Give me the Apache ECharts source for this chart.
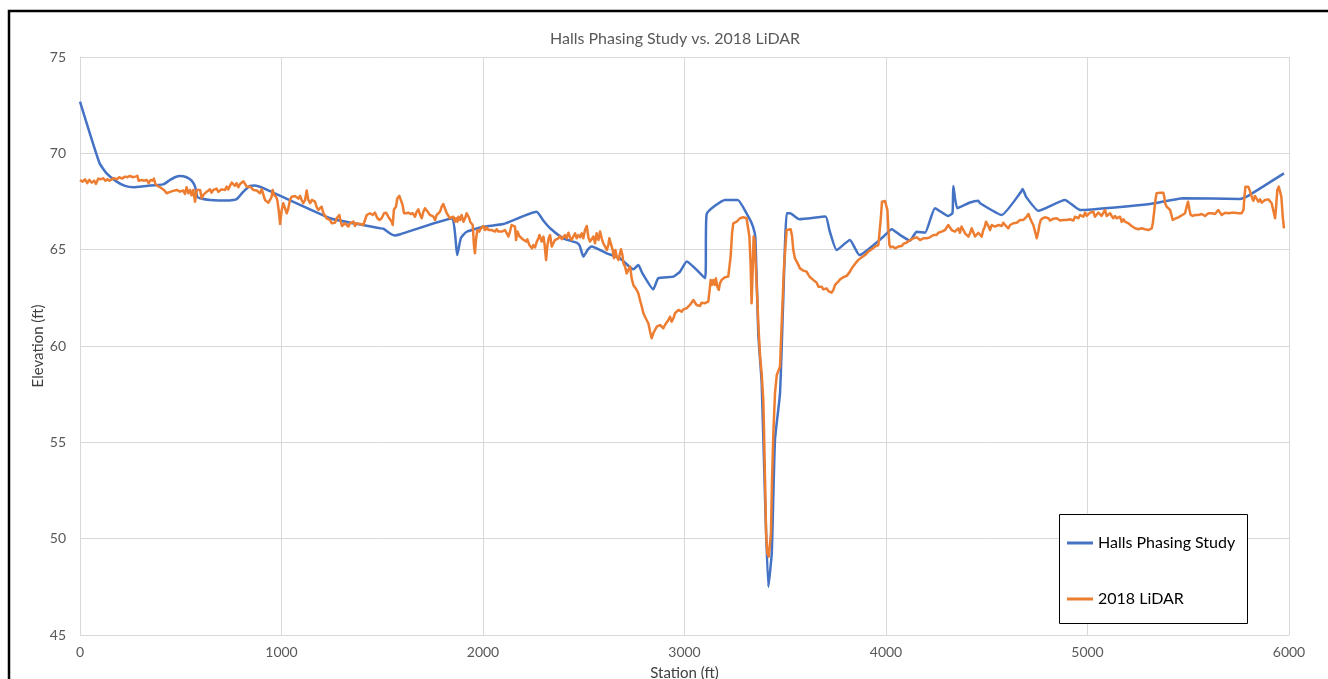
<!DOCTYPE html>
<html>
<head>
<meta charset="utf-8">
<script src="https://cdn.jsdelivr.net/npm/echarts@6/dist/echarts.min.js"></script>
<style>
  html, body { margin: 0; padding: 0; background: #fff; }
  #chart { width: 1328px; height: 679px; }
</style>
</head>
<body>
<div id="chart"></div>
<script>
// Profile along the channel: [station (ft), elevation (ft)]
const hallsStudy = [
  [0,72.68],[96,69.51],[132,68.96],[182,68.53],[223,68.31],[265,68.24],[331,68.31],[413,68.39],[447,68.62],[471,68.76],
  [496,68.83],[529,68.76],[554,68.58],[571,68.27],[582,67.75],[596,67.67],[645,67.58],[744,67.55],[777,67.62],[811,68.01],
  [844,68.31],[868,68.33],[910,68.19],[1241,66.63],[1357,66.37],[1489,66.11],[1505,66.09],[1545,65.80],[1563,65.74],[1590,65.80],
  [1844,66.62],[1872,64.72],[1890,65.60],[1919,65.93],[2002,66.19],[2101,66.33],[2266,66.97],[2300,66.50],[2333,66.11],[2399,65.59],
  [2465,65.36],[2480,65.20],[2498,64.64],[2520,65.00],[2539,65.16],[2614,64.81],[2680,64.55],[2746,63.98],[2771,64.20],[2790,63.80],
  [2845,62.94],[2870,63.52],[2945,63.60],[2978,63.86],[3011,64.38],[3102,63.52],[3110,66.85],[3201,67.58],[3264,67.58],[3317,66.71],
  [3340,66.20],[3352,65.60],[3366,60.66],[3383,58.08],[3400,52.00],[3416,47.51],[3433,49.24],[3449,55.12],[3474,57.55],[3490,62.39],
  [3507,66.89],[3524,66.89],[3570,66.58],[3700,66.72],[3719,66.02],[3755,64.98],[3821,65.50],[3868,64.72],[3987,65.67],[4028,66.06],
  [4070,65.76],[4119,65.47],[4152,65.93],[4194,65.88],[4243,67.15],[4309,66.75],[4330,66.90],[4334,68.30],[4354,67.15],[4417,67.45],
  [4458,67.54],[4467,67.41],[4574,66.80],[4670,68.00],[4678,68.15],[4695,67.75],[4756,67.02],[4888,67.58],[4963,67.06],[5310,67.37],
  [5476,67.67],[5757,67.63],[5790,67.75],[5975,68.96]
];

const lidar2018 = [
  [0,68.62],[13,68.53],[25,68.65],[36,68.45],[46,68.62],[58,68.48],[70,68.58],[79,68.41],[91,68.69],[103,68.65],
  [116,68.71],[126,68.58],[136,68.65],[146,68.58],[157,68.65],[169,68.71],[182,68.65],[195,68.76],[208,68.69],[223,68.79],
  [235,68.76],[248,68.83],[261,68.76],[275,68.79],[285,68.83],[291,68.58],[306,68.62],[318,68.58],[331,68.62],[341,68.45],
  [351,68.62],[361,68.58],[367,68.69],[374,68.41],[384,68.31],[397,68.24],[417,68.10],[430,67.93],[447,68.00],[463,68.05],
  [480,68.10],[496,68.01],[513,68.07],[521,67.89],[529,68.24],[538,67.93],[546,68.10],[554,67.82],[562,68.10],[571,67.49],
  [579,68.10],[587,68.01],[596,68.10],[604,67.67],[612,67.84],[620,67.75],[629,68.01],[637,67.93],[645,68.13],[653,67.96],
  [662,68.10],[670,68.03],[678,68.17],[687,68.00],[695,68.07],[703,68.13],[711,68.05],[720,68.10],[728,68.27],[736,68.13],
  [744,68.31],[753,68.48],[761,68.58],[769,68.31],[777,68.45],[786,68.24],[794,68.41],[802,68.48],[811,68.55],[819,68.41],
  [827,68.27],[835,68.36],[844,68.27],[852,68.22],[860,68.10],[868,68.01],[877,68.07],[885,68.10],[893,67.93],[902,68.13],
  [910,68.10],[918,67.58],[926,67.67],[935,67.44],[943,67.58],[951,67.75],[956,68.10],[963,67.84],[973,67.75],[979,67.58],
  [986,67.06],[993,66.33],[1001,67.06],[1009,67.41],[1017,67.49],[1026,66.89],[1034,67.15],[1042,67.58],[1051,67.75],[1059,67.72],
  [1067,67.79],[1075,67.75],[1084,67.65],[1092,67.79],[1100,67.58],[1108,67.41],[1117,67.58],[1125,68.07],[1133,67.58],[1142,67.41],
  [1150,67.58],[1158,67.58],[1166,67.49],[1175,67.20],[1183,67.06],[1191,67.06],[1199,67.23],[1208,66.89],[1216,66.80],[1224,66.63],
  [1232,66.72],[1241,66.54],[1249,66.37],[1257,66.46],[1266,66.40],[1274,66.63],[1282,66.54],[1287,66.80],[1294,66.46],[1300,66.23],
  [1307,66.20],[1315,66.37],[1323,66.28],[1332,66.20],[1340,66.37],[1348,66.28],[1357,66.46],[1365,66.23],[1373,66.37],[1381,66.28],
  [1390,66.33],[1398,66.28],[1406,66.28],[1414,66.37],[1423,66.80],[1431,66.89],
  [1439,66.89],[1453,66.80],[1464,66.92],[1476,66.63],[1486,66.54],[1497,66.63],[1509,66.89],[1519,66.92],[1530,66.71],[1539,66.80],
  [1547,66.45],[1552,66.28],[1558,67.09],[1568,67.23],[1575,67.67],[1585,67.79],[1593,67.75],[1601,67.32],[1608,66.89],[1618,66.89],
  [1630,66.92],[1641,66.85],[1651,66.89],[1663,66.71],[1671,66.97],[1679,67.09],[1688,66.80],[1696,66.63],[1704,66.97],[1712,67.15],
  [1721,67.03],[1729,67.09],[1737,66.80],[1745,66.89],[1754,66.71],[1762,66.54],[1770,66.80],[1778,66.71],[1787,66.97],[1795,67.23],
  [1803,67.37],[1812,67.32],[1820,66.89],[1828,66.80],[1836,66.63],[1845,66.54],[1853,66.71],[1861,66.45],[1866,66.63],[1873,66.45],
  [1878,66.71],[1886,66.54],[1894,66.80],[1903,66.45],[1911,66.63],[1919,66.89],[1927,66.92],[1932,66.63],[1936,66.45],[1944,66.51],
  [1949,66.28],[1955,65.24],[1960,64.81],[1965,65.50],[1972,66.02],[1982,65.94],[1990,66.11],[2002,66.23],[2010,66.02],[2018,66.16],
  [2027,66.02],[2035,66.11],[2043,66.02],[2051,66.11],[2060,65.94],[2068,66.06],[2076,65.94],[2084,66.02],[2093,65.94],[2101,65.88],
  [2109,66.02],[2118,65.85],[2126,65.68],[2134,65.94],[2142,66.28],[2151,66.37],[2159,66.19],[2164,65.50],[2171,65.94],[2180,65.71],
  [2187,65.64],[2197,65.54],[2204,65.50],[2214,65.42],[2220,65.54],[2230,65.24],[2237,65.16],[2243,65.07],[2250,65.24],[2258,65.12],
  [2267,65.42],[2275,65.59],[2280,65.76],[2286,65.59],[2291,65.42],[2300,65.68],[2306,65.24],[2313,64.46],[2319,65.16],[2326,65.59],
  [2333,65.76],[2341,65.16],[2349,65.33],[2357,65.50],[2366,65.42],[2374,65.59],[2382,65.71],[2391,65.54],[2399,65.64],[2407,65.76],
  [2415,65.59],[2424,65.88],[2432,65.64],[2440,65.50],[2448,65.68],[2457,65.85],[2465,65.59],[2473,65.76],[2482,65.64],[2490,65.85],
  [2498,65.59],[2506,66.02],[2515,66.23],[2523,65.64],[2531,65.42],[2539,65.54],[2548,65.68],[2556,65.33],[2564,65.85],[2573,65.50],
  [2581,65.94],[2589,65.59],[2597,65.33],[2606,65.16],[2614,64.98],[2622,65.24],[2627,65.59],[2634,65.33],[2644,64.98],[2650,64.55],
  [2657,64.98],[2664,64.64],[2672,64.46],[2680,64.81],[2685,65.02],[2692,64.72],[2697,64.29],[2705,64.12],[2713,63.77],[2721,63.95],
  [2730,64.12],[2738,63.51],[2746,63.17],[2754,63.08],[2763,62.91],[2771,62.73],[2779,62.39],[2788,62.04],[2796,61.70],[2804,61.52],
  [2812,61.35],[2821,61.17],[2829,60.75],[2837,60.40],[2845,60.66],[2854,60.75],[2862,61.00],[2870,60.92],[2879,61.09],[2887,61.00],
  [2895,60.92],[2903,61.09],[2912,61.17],[2920,61.35],[2928,61.52],[2936,61.26],[2945,61.44],[2953,61.70],[2961,61.78],[2970,61.87],
  [2978,61.87],[2986,61.78],[2994,61.90],[3002,61.84],[3011,61.96],[3019,62.04],[3027,62.13],[3036,62.22],[3044,62.39],[3052,62.30],
  [3060,62.13],[3069,62.22],[3077,62.08],[3085,62.25],[3093,62.30],[3102,62.22],[3110,62.13],[3118,62.30],[3123,62.74],[3130,63.43],
  [3136,63.17],[3143,63.43],[3150,63.17],[3156,63.51],[3163,63.08],[3170,62.91],[3176,63.25],[3184,63.43],[3193,63.34],[3201,63.57],
  [3209,63.51],[3217,63.60],[3222,63.69],[3229,64.64],[3236,65.85],[3242,66.37],[3251,66.37],[3259,66.45],[3267,66.54],[3275,66.63],
  [3284,66.71],[3292,66.68],[3300,66.71],[3308,66.63],[3317,66.54],[3322,65.68],[3328,64.29],[3333,62.22],[3338,63.77],[3343,65.68],
  [3348,65.50],[3350,64.98],[3358,63.25],[3367,61.00],[3375,59.45],[3383,58.58],[3391,57.20],[3395,55.47],[3400,52.87],[3405,50.28],
  [3411,49.24],[3418,49.07],[3424,49.16],[3429,50.28],[3434,52.87],[3441,55.47],[3449,57.54],[3458,58.50],[3466,58.58],[3474,58.93],
  [3479,60.31],[3487,62.39],[3494,64.12],[3502,65.33],[3507,66.02],[3515,66.06],[3527,66.06],[3534,65.68],
  [3540,64.98],[3548,64.55],[3557,64.38],[3565,64.21],[3573,64.03],[3581,63.95],[3590,63.91],[3598,63.81],[3606,63.86],[3615,63.69],
  [3623,63.57],[3631,63.51],[3639,63.43],[3648,63.46],[3656,63.29],[3664,63.08],[3672,62.99],[3681,63.08],[3689,62.94],[3697,62.91],
  [3706,62.99],[3714,62.85],[3722,62.91],[3730,62.77],[3739,62.91],[3747,63.17],[3755,63.25],[3763,63.34],[3772,63.46],[3780,63.43],
  [3788,63.57],[3797,63.51],[3805,63.64],[3813,63.69],[3821,63.86],[3830,64.03],[3838,64.12],[3846,64.26],[3854,64.33],[3863,64.47],
  [3871,64.55],[3879,64.60],[3887,64.67],[3896,64.72],[3904,64.81],[3912,64.90],[3921,64.98],[3929,65.02],[3937,65.12],[3945,65.16],
  [3954,65.19],[3962,65.24],[3970,65.33],[3975,66.71],[3980,67.49],[3987,67.53],[3995,67.53],[4003,67.46],[4007,67.06],[4012,66.02],
  [4017,65.24],[4023,65.12],[4033,65.16],[4045,65.07],[4053,65.12],[4061,65.16],[4069,65.24],[4078,65.19],[4086,65.30],[4094,65.33],
  [4103,65.37],[4111,65.42],[4119,65.50],[4127,65.47],[4136,65.59],[4144,65.50],[4152,65.64],[4160,65.59],[4169,65.50],[4177,65.54],
  [4185,65.59],[4193,65.50],[4202,65.59],[4210,65.68],[4218,65.64],[4227,65.71],[4235,65.76],[4243,65.81],[4251,65.76],[4260,65.88],
  [4268,65.85],[4276,65.94],[4285,65.88],[4293,66.02],[4301,66.11],[4309,66.28],[4318,66.20],[4326,66.02],[4334,66.06],[4342,65.94],
  [4351,66.02],[4359,66.11],[4367,65.88],[4375,66.20],[4384,66.02],[4392,65.85],[4400,65.76],[4409,65.68],[4417,65.85],[4425,66.11],
  [4433,66.02],[4442,65.68],[4450,65.76],[4458,65.88],[4466,65.85],
  [4475,65.68],[4483,66.02],[4491,66.20],[4496,66.45],[4503,66.54],[4510,66.20],[4516,66.02],[4525,66.28],[4533,66.37],[4541,66.20],
  [4549,66.11],[4558,66.28],[4566,66.37],[4574,66.23],[4582,66.40],[4591,66.28],[4599,66.28],[4607,66.11],[4616,66.28],[4624,66.23],
  [4632,66.37],[4640,66.33],[4649,66.40],[4657,66.45],[4665,66.54],[4673,66.45],[4682,66.54],[4690,66.58],[4698,66.71],[4707,66.85],
  [4715,66.63],[4723,66.45],[4731,66.28],[4740,65.94],[4748,65.59],[4756,65.94],[4761,66.28],[4768,66.54],[4778,66.63],[4789,66.68],
  [4798,66.58],[4806,66.63],[4814,66.51],[4822,66.58],[4831,66.61],[4839,66.54],[4847,66.63],[4855,66.58],[4864,66.51],[4872,66.51],
  [4880,66.54],[4888,66.45],[4897,66.54],[4905,66.45],[4913,66.58],[4922,66.63],[4930,66.51],[4938,66.71],[4946,66.75],[4955,66.63],
  [4963,66.80],[4971,66.80],[4979,66.71],[4988,66.92],[4996,66.75],[5004,66.80],[5013,66.92],[5021,66.85],[5029,66.97],[5037,66.71],
  [5046,66.75],[5054,66.92],[5062,66.89],[5070,66.75],[5079,66.84],[5087,67.06],[5095,66.75],[5104,66.68],[5112,66.89],[5120,66.75],
  [5128,66.63],[5137,66.75],[5145,66.63],[5153,66.54],[5161,66.71],[5170,66.45],[5178,66.58],[5186,66.45],[5195,66.51],[5203,66.37],
  [5211,66.33],[5219,66.23],[5228,66.20],[5236,66.11],[5244,66.16],[5252,66.06],[5261,66.02],[5269,66.11],[5277,66.02],[5285,66.06],
  [5294,65.99],[5302,66.02],[5310,65.99],[5319,66.11],[5324,66.37],[5330,66.89],[5337,67.58],[5343,67.93],[5352,67.96],[5360,67.96],
  [5368,67.93],[5376,67.96],[5381,67.75],[5385,67.41],[5393,67.23],[5401,67.15],[5410,67.06],[5418,66.97],[5423,66.54],[5429,66.51],
  [5439,66.63],[5451,66.68],[5463,66.75],[5472,66.68],[5484,66.89],[5492,67.23],[5499,67.49],[5506,67.06],[5512,66.80],[5522,66.75],
  [5534,66.80],[5542,66.75],[5550,66.80],[5558,66.75],[5567,66.85],[5575,66.80],[5583,66.75],[5592,66.85],[5600,66.89],[5608,66.97],
  [5616,66.89],[5625,66.97],[5633,66.85],[5641,66.89],[5649,67.06],[5658,66.92],[5666,66.80],[5674,66.85],[5683,66.92],[5691,66.97],
  [5699,66.89],[5707,66.97],[5716,66.92],[5724,66.89],[5732,66.92],[5740,66.97],[5749,66.89],[5757,66.97],[5765,66.89],[5774,67.06],
  [5779,67.75],[5784,68.27],[5790,68.31],[5798,68.27],[5807,68.01],[5815,67.75],[5823,67.54],[5831,67.79],[5840,67.72],[5848,67.49],
  [5856,67.61],[5865,67.44],[5873,67.54],[5881,67.58],[5889,67.49],[5898,67.61],[5906,67.58],[5914,67.41],[5922,67.44],[5931,66.63],
  [5936,67.23],[5942,68.10],[5949,68.27],[5955,68.18],[5962,67.75],[5969,66.71],[5975,66.11]
];

const seriesNames = ['Halls Phasing Study', '2018 LiDAR'];
const seriesColors = ['#4472C4', '#ED7D31'];
const chartTitle = 'Halls Phasing Study vs. 2018 LiDAR';
const xAxisName = 'Station (ft)';
const yAxisName = 'Elevation (ft)';

const FONT = 'Lato, "Liberation Sans", sans-serif';
const chart = echarts.init(document.getElementById('chart'), null, { renderer: 'canvas' });

chart.setOption({
  backgroundColor: '#ffffff',
  animation: false,
  textStyle: { fontFamily: FONT },
  title: {
    text: chartTitle,
    left: 545,
    top: 26,
    textStyle: { fontFamily: FONT, fontSize: 16, fontWeight: 'normal', color: '#595959' }
  },
  grid: { left: 80, top: 57, right: 39, bottom: 44, containLabel: false, outerBoundsMode: 'none' },
  xAxis: {
    type: 'value',
    min: 0, max: 6000, interval: 1000,
    name: xAxisName,
    nameLocation: 'middle',
    nameGap: 31,
    nameMoveOverlap: false,
    nameTextStyle: { fontFamily: FONT, fontSize: 15, color: '#404040' },
    axisLine: { show: true, lineStyle: { color: '#d9d9d9', width: 1 } },
    axisTick: { show: false },
    axisLabel: { margin: 10, fontFamily: FONT, fontSize: 14, color: '#595959', formatter: v => String(v) },
    splitLine: { show: true, lineStyle: { color: '#d9d9d9', width: 1 } }
  },
  yAxis: {
    type: 'value',
    min: 45, max: 75, interval: 5,
    name: yAxisName,
    nameLocation: 'middle',
    nameRotate: 90,
    nameGap: 34,
    nameMoveOverlap: false,
    nameTextStyle: { fontFamily: FONT, fontSize: 15, color: '#404040' },
    axisLine: { show: true, lineStyle: { color: '#d9d9d9', width: 1 } },
    axisTick: { show: false },
    axisLabel: { margin: 14, fontFamily: FONT, fontSize: 14, color: '#595959' },
    splitLine: { show: true, lineStyle: { color: '#d9d9d9', width: 1 } }
  },
  legend: {
    orient: 'vertical',
    left: 1067,
    top: 535,
    padding: 0,
    itemGap: 40,
    itemWidth: 26,
    itemHeight: 3,
    icon: 'rect',
    data: seriesNames,
    textStyle: { fontFamily: FONT, fontSize: 16, color: '#000000' },
    z: 10
  },
  graphic: [
    {
      type: 'rect', z: 1,
      shape: { x: 9, y: 11, width: 1340, height: 700 },
      style: { fill: null, stroke: '#000000', lineWidth: 2.5 }
    },
    {
      type: 'rect', z: 9,
      shape: { x: 1059.5, y: 514.5, width: 188, height: 109 },
      style: { fill: '#ffffff', stroke: '#000000', lineWidth: 1 }
    }
  ],
  series: [
    {
      name: seriesNames[0], type: 'line', data: hallsStudy,
      showSymbol: false, smooth: 0.15,
      lineStyle: { color: seriesColors[0], width: 2.5 },
      itemStyle: { color: seriesColors[0] }, z: 3
    },
    {
      name: seriesNames[1], type: 'line', data: lidar2018,
      showSymbol: false,
      lineStyle: { color: seriesColors[1], width: 2.5, join: 'round' },
      itemStyle: { color: seriesColors[1] }, z: 4
    }
  ]
});
</script>
</body>
</html>
